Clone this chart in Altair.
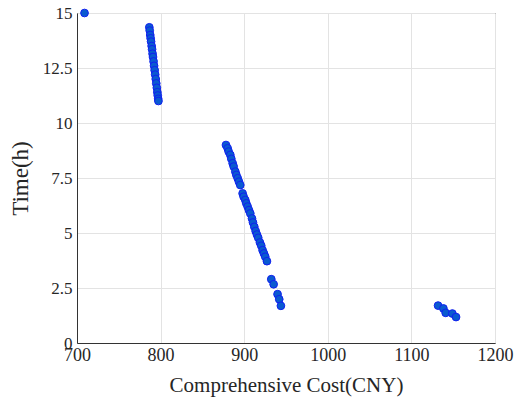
import altair as alt
import pandas as pd

cost = [709,
        786.5, 787.0, 787.6, 788.1, 788.6, 789.3, 789.8, 790.4, 790.9, 791.6,
        792.2, 792.9, 793.5, 794.2, 794.8, 795.5, 796.1, 796.6, 797.1, 797.4,
        878.2, 880.2, 881.4, 883.4, 884.6, 886.2, 887.4, 889.4, 890.6, 892.2,
        893.7, 895.3, 898.1, 899.3, 901.3, 902.5, 904.1, 905.7, 907.3, 909.3,
        910.5, 912.1, 913.7, 915.2, 916.8, 918.8, 920.4, 922.0, 923.6, 925.2,
        927.2, 932.4, 935.2, 939.9, 941.9, 943.9,
        1131.9, 1138.3, 1141.0, 1149.0, 1153.4]
time_h = [15.0,
          14.35, 14.2, 14.0, 13.85, 13.7, 13.5, 13.35, 13.15, 13.0, 12.8,
          12.6, 12.4, 12.2, 12.0, 11.8, 11.6, 11.4, 11.25, 11.1, 11.0,
          9.00, 8.85, 8.70, 8.55, 8.37, 8.17, 8.02, 7.79, 7.64, 7.49,
          7.33, 7.18, 6.80, 6.65, 6.50, 6.35, 6.20, 6.04, 5.89, 5.66,
          5.48, 5.28, 5.09, 4.93, 4.78, 4.57, 4.42, 4.22, 4.07, 3.92,
          3.72, 2.90, 2.67, 2.22, 1.99, 1.69,
          1.70, 1.57, 1.37, 1.34, 1.18]

x_ticks = [700, 800, 900, 1000, 1100, 1200]
y_ticks = [0, 2.5, 5, 7.5, 10, 12.5, 15]

df = pd.DataFrame({"cost": cost, "time": time_h})

font = "'Times New Roman', 'Liberation Serif', 'DejaVu Serif', serif"

chart = alt.Chart(df).mark_point(
    filled=True, shape="circle", size=60, fill="#0A5AD0", stroke="#1020F0",
    strokeWidth=1, opacity=1, clip=False
).encode(
    x=alt.X("cost:Q", scale=alt.Scale(domain=[700, 1200], nice=False),
            axis=alt.Axis(values=x_ticks, title="Comprehensive Cost(CNY)",
                          labelExpr="datum.value + ''", labelFlush=False,
                          labelFontSize=18, titleFontSize=21,
                          labelPadding=3, titlePadding=10)),
    y=alt.Y("time:Q", scale=alt.Scale(domain=[0, 15], nice=False),
            axis=alt.Axis(values=y_ticks, title="Time(h)",
                          labelExpr="datum.value + ''", labelFlush=False,
                          labelFontSize=17, titleFontSize=23,
                          labelPadding=5, titlePadding=10)),
).properties(
    width=418, height=330,
    autosize=alt.AutoSizeParams(type="none"),
    padding={"left": 77, "top": 13, "right": 20, "bottom": 56},
).configure(
    font=font
).configure_view(
    stroke="#333333", strokeWidth=1
).configure_axis(
    labelFont=font, titleFont=font,
    labelColor="#262626", titleColor="#262626", titleFontWeight="normal",
    domainColor="#333333", ticks=False, grid=True, gridColor="#E3E3E3",
)

chart.save("out.html", embed_options={"renderer": "svg", "actions": False})
